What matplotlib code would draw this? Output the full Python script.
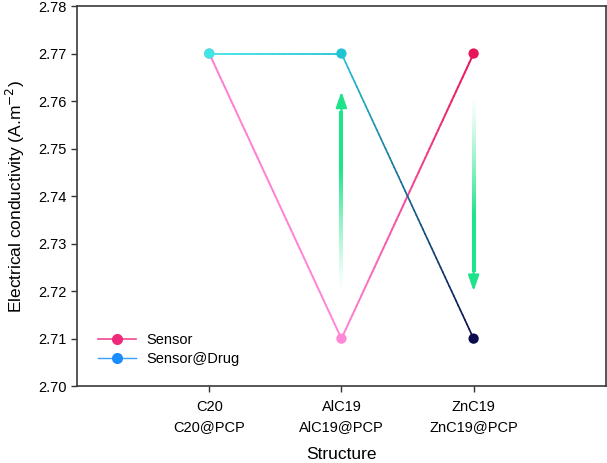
import numpy as np
import matplotlib.pyplot as plt
from matplotlib.collections import LineCollection
from matplotlib.colors import to_rgba
from matplotlib.lines import Line2D

plt.rcParams['font.family'] = ['Liberation Sans', 'DejaVu Sans']

# data
categories = ["C20\nC20@PCP", "AlC19\nAlC19@PCP", "ZnC19\nZnC19@PCP"]
sensor = [2.77, 2.71, 2.77]
sensor_drug = [2.77, 2.77, 2.71]

# colours at each point (gradient between them)
sensor_colors = ["#ff7fcf", "#ff88d8", "#e8145a"]
drug_colors = ["#3ee6e6", "#22c4d4", "#0b0b4e"]

# change arrows: (x index, start, end)
arrow_up = (1, 2.720, 2.762)
arrow_down = (2, 2.761, 2.720)
arrow_color = "#1ee38a"


def grad_line(ax, xs, ys, cols, lw, n=60):
    segs, seg_cols = [], []
    for i in range(len(xs) - 1):
        c0 = np.array(to_rgba(cols[i]))
        c1 = np.array(to_rgba(cols[i + 1]))
        t = np.linspace(0, 1, n + 1)
        px = xs[i] + (xs[i + 1] - xs[i]) * t
        py = ys[i] + (ys[i + 1] - ys[i]) * t
        for k in range(n):
            segs.append([(px[k], py[k]), (px[k + 1], py[k + 1])])
            seg_cols.append(c0 + (c1 - c0) * (k + 0.5) / n)
    lc = LineCollection(segs, colors=seg_cols, linewidths=lw, capstyle='round', zorder=2)
    ax.add_collection(lc)


def fade_arrow(ax, x, y0, y1, color, n=60):
    # faded tail -> solid head, blend to white instead of alpha
    t = np.linspace(0, 1, n + 1)
    head = 0.0045 if y1 > y0 else -0.0045
    ys = y0 + (y1 - head - y0) * t
    segs = [[(x, ys[k]), (x, ys[k + 1])] for k in range(n)]
    base = np.array(to_rgba(color))
    white = np.array([1.0, 1.0, 1.0, 1.0])
    cols = []
    for k in range(n):
        a = min(1.0, ((k + 0.5) / n) ** 1.3 * 1.6)
        cols.append(white + (base - white) * a)
    ax.add_collection(LineCollection(segs, colors=cols, linewidths=1.5,
                                     antialiaseds=False, capstyle='projecting', zorder=1))
    ax.annotate("", xy=(x, y1), xytext=(x, y1 - head * 1.2),
                arrowprops=dict(arrowstyle="-|>,head_width=0.33,head_length=0.95",
                                color=color, lw=1.6, shrinkA=0, shrinkB=0), zorder=1)


fig, ax = plt.subplots(figsize=(6.07, 4.63), dpi=100)
fig.subplots_adjust(left=0.127, right=0.998, top=0.987, bottom=0.166)

x = np.arange(1, len(categories) + 1)

fade_arrow(ax, x[arrow_up[0]], arrow_up[1], arrow_up[2], arrow_color)
fade_arrow(ax, x[arrow_down[0]], arrow_down[1], arrow_down[2], arrow_color)

grad_line(ax, x, sensor, sensor_colors, 1.4)
grad_line(ax, x, sensor_drug, drug_colors, 1.2)

ax.scatter(x, sensor, s=55, c=sensor_colors, zorder=3, linewidths=0)
ax.scatter(x, sensor_drug, s=55, c=drug_colors, zorder=4, linewidths=0)

ax.set_xlim(0, 4)
ax.set_ylim(2.70, 2.78)
ax.set_yticks(np.arange(2.70, 2.781, 0.01))
ax.set_yticklabels([f"{v:.2f}" for v in np.arange(2.70, 2.781, 0.01)])
ax.set_xticks(x)
ax.set_xticklabels(categories, linespacing=1.5)
ax.tick_params(axis='both', labelsize=10.5, color='#333333', length=4, width=1, direction='out')
ax.tick_params(axis='x', pad=6)
for s in ax.spines.values():
    s.set_color('#3a3a3a')
    s.set_linewidth(1.2)

ax.set_ylabel("Electrical conductivity (A.m$^{-2}$)", fontsize=12.5, labelpad=8)
ax.set_xlabel("Structure", fontsize=12.5, labelpad=10)

handles = [
    Line2D([], [], color="#f0488f", marker='o', markersize=8, lw=1.2,
           markerfacecolor="#ee2a7b", markeredgewidth=0),
    Line2D([], [], color="#3aa0ff", marker='o', markersize=8, lw=1.0,
           markerfacecolor="#1a8cff", markeredgewidth=0),
]
ax.legend(handles, ["Sensor", "Sensor@Drug"], loc='lower left', bbox_to_anchor=(0.006, 0.006),
          frameon=False, fontsize=10.5, handlelength=2.6, handletextpad=0.7,
          labelspacing=0.35, borderaxespad=0.8)

fig.savefig("out.png", dpi=100)
